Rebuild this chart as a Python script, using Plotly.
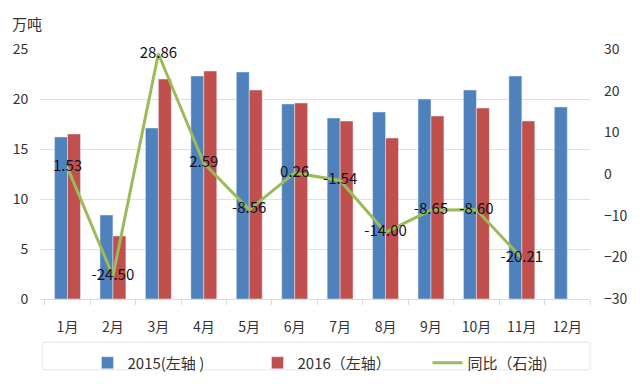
import plotly.graph_objects as go

months = ["1月", "2月", "3月", "4月", "5月", "6月", "7月", "8月", "9月", "10月", "11月", "12月"]
v2015 = [16.2, 8.4, 17.1, 22.3, 22.7, 19.5, 18.1, 18.7, 20.0, 20.9, 22.3, 19.2]
v2016 = [16.5, 6.3, 22.0, 22.8, 20.9, 19.6, 17.8, 16.1, 18.3, 19.1, 17.8]
yoy = [1.53, -24.50, 28.86, 2.59, -8.56, 0.26, -1.54, -14.00, -8.65, -8.60, -20.21]

font = "Noto Sans CJK SC, Microsoft YaHei, sans-serif"

fig = go.Figure()
fig.add_trace(go.Bar(x=months, y=v2015, name="2015(左轴 )", marker_color="#4F81BD"))
fig.add_trace(go.Bar(x=months[:len(v2016)], y=v2016, name="2016（左轴）", marker_color="#C0504D"))
fig.add_trace(go.Scatter(x=months[:len(yoy)], y=yoy, name="同比（石油)", yaxis="y2",
                         mode="lines+text", line=dict(color="#9BBB59", width=3),
                         text=[f"{v:.2f}" for v in yoy], textposition="middle center",
                         cliponaxis=False,
                         textfont=dict(size=15, color="#111122", family=font)))

# page body has an 8px margin, so margins are compensated
fig.update_layout(
    width=640, height=384,
    margin=dict(l=32, r=58, t=41, b=85),
    paper_bgcolor="white", plot_bgcolor="white",
    font=dict(family=font, size=13, color="#333333"),
    barmode="group", bargap=0.43, bargroupgap=0,
    xaxis=dict(showline=True, linecolor="#D9D9D9", ticks="outside", tickcolor="#D9D9D9",
               ticklen=5, tickson="boundaries", showgrid=False, tickfont=dict(size=14),
               ticklabelstandoff=15, automargin=False),
    yaxis=dict(range=[0, 25], dtick=5, showgrid=True, gridcolor="#E0E0E0", zeroline=False,
               tickfont=dict(size=14), ticks="outside", ticklen=8, tickcolor="rgba(0,0,0,0)",
               automargin=False),
    yaxis2=dict(range=[-30, 30], dtick=10, overlaying="y", side="right", showgrid=False,
                zeroline=False, tickfont=dict(size=14), ticklabelstandoff=13, automargin=False),
    legend=dict(orientation="h", x=0.55, xanchor="center", y=-0.19, yanchor="top",
                borderwidth=0, bgcolor="rgba(0,0,0,0)", font=dict(size=15, color="#333333"),
                traceorder="normal", entrywidth=125, entrywidthmode="pixels"),
    shapes=[dict(type="rect", xref="paper", yref="paper", x0=0.005, x1=1.0,
                 y0=-0.283, y1=-0.173, line=dict(color="#E6E6E6", width=1))],
    annotations=[dict(text="万吨", xref="paper", yref="paper", x=-0.0545, y=1.102,
                      xanchor="left", yanchor="middle", showarrow=False,
                      font=dict(size=15, color="#333333"))],
)

fig.write_html("out.html")
